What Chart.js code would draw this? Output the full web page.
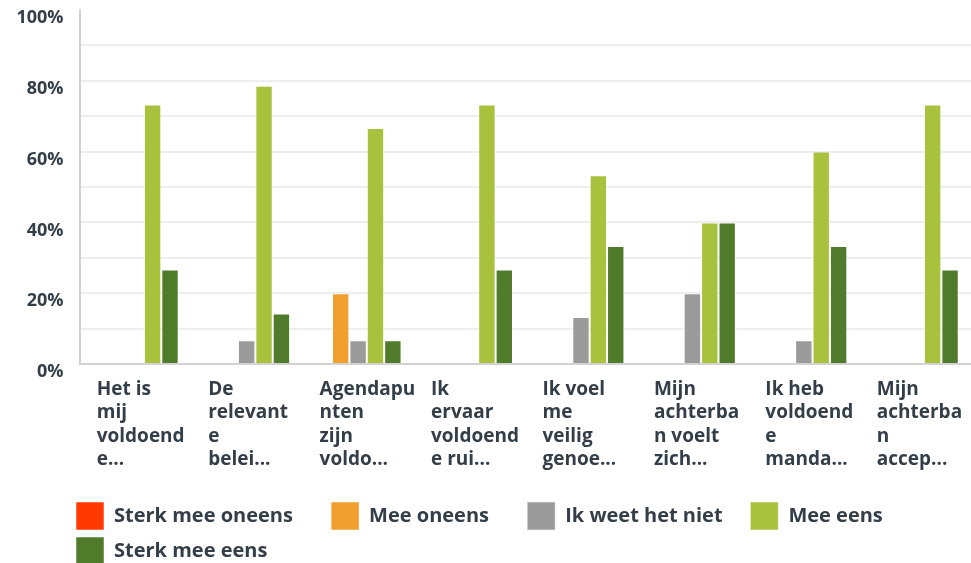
<!DOCTYPE html>
<html>
<head>
<meta charset="utf-8">
<script src="https://cdn.jsdelivr.net/npm/chart.js@4.4.1/dist/chart.umd.min.js"></script>
<style>
  html, body { margin: 0; padding: 0; background: #ffffff; }
  #wrap { width: 971px; height: 563px; position: relative; }
</style>
</head>
<body>
<div id="wrap"><canvas id="c" width="971" height="563"></canvas></div>
<script>
// ---- data ----
const categories = [
  ["Het is", "mij", "voldoend", "e..."],
  ["De", "relevant", "e", "belei..."],
  ["Agendapu", "nten", "zijn", "voldo..."],
  ["Ik", "ervaar", "voldoend", "e rui..."],
  ["Ik voel", "me", "veilig", "genoe..."],
  ["Mijn", "achterba", "n voelt", "zich..."],
  ["Ik heb", "voldoend", "e", "manda..."],
  ["Mijn", "achterba", "n", "accep..."]
];
const seriesNames = ["Sterk mee oneens", "Mee oneens", "Ik weet het niet", "Mee eens", "Sterk mee eens"];
const sterkMeeOneens = [0, 0, 0, 0, 0, 0, 0, 0];
const meeOneens      = [0, 0, 20, 0, 0, 0, 0, 0];
const ikWeetHetNiet  = [0, 6.7, 6.7, 0, 13.3, 20, 6.7, 0];
const meeEens        = [73.3, 78.6, 66.7, 73.3, 53.3, 40, 60, 73.3];
const sterkMeeEens   = [26.7, 14.3, 6.7, 26.7, 33.3, 40, 33.3, 26.7];
const yTickLabels    = [0, 20, 40, 60, 80, 100];

// ---- styling ----
const colors = ["#ff3a00", "#f1a030", "#9b9b9b", "#a8c23d", "#507b2a"];
const textColor = "#333e48";
const fontFamily = "'Open Sans', 'Noto Sans', sans-serif";
const seriesValues = [sterkMeeOneens, meeOneens, ikWeetHetNiet, meeEens, sterkMeeEens];
const legendTrail = [6, 6, 4, 6, 6];

const datasets = seriesNames.map((name, i) => ({
  label: name,
  data: seriesValues[i],
  backgroundColor: colors[i],
  borderColor: "rgba(255,255,255,0.55)",
  borderWidth: 1,
  borderSkipped: "start"
}));

const legendShift = {
  id: "legendShift",
  afterLayout(chart) {
    if (chart.legend) { chart.legend.left += 61; chart.legend.right += 61; }
  }
};

new Chart(document.getElementById("c"), {
  type: "bar",
  data: { labels: categories, datasets },
  plugins: [legendShift],
  options: {
    responsive: false,
    animation: false,
    devicePixelRatio: 1,
    layout: { padding: { left: 8, right: -3, top: 10, bottom: -12 } },
    datasets: { bar: { categoryPercentage: 0.78, barPercentage: 1.0 } },
    plugins: {
      tooltip: { enabled: false },
      legend: {
        position: "bottom",
        align: "start",
        labels: {
          boxWidth: 28,
          boxHeight: 28,
          padding: 7,
          color: textColor,
          useBorderRadius: true,
          borderRadius: 3,
          font: { family: fontFamily, size: 20, weight: "bold" },
          generateLabels: (chart) => chart.data.datasets.map((ds, i) => ({
            text: ds.label + "\u00a0".repeat(legendTrail[i]),
            fillStyle: ds.backgroundColor,
            strokeStyle: "rgba(255,255,255,0.5)",
            lineWidth: 1,
            fontColor: textColor,
            hidden: false,
            datasetIndex: i
          }))
        }
      }
    },
    scales: {
      x: {
        grid: { display: false, drawTicks: false },
        border: { display: true, color: "#d2d2d2", width: 2 },
        afterFit: (scale) => { scale.height = 131; scale.paddingLeft = 0; scale.paddingRight = 0; },
        ticks: {
          autoSkip: false,
          maxRotation: 0,
          minRotation: 0,
          align: "start",
          labelOffset: -38.5,
          padding: 14,
          color: textColor,
          font: { family: fontFamily, size: 19, weight: "bold", lineHeight: 1.23 }
        }
      },
      y: {
        min: 0,
        max: 100,
        afterFit: (scale) => { scale.width = 71.5; scale.paddingTop = 0; scale.paddingBottom = 0; },
        afterBuildTicks: (scale) => {
          scale.ticks = [];
          for (let v = 0; v <= 100; v += 10) scale.ticks.push({ value: v });
        },
        grid: {
          drawTicks: false,
          lineWidth: 2,
          color: (ctx) => (ctx.tick && (ctx.tick.value === 100 || ctx.tick.value === 0)) ? "rgba(0,0,0,0)" : "#eeeeee"
        },
        border: { display: true, color: "#d2d2d2", width: 2 },
        ticks: {
          padding: 16,
          labelOffset: 8,
          color: textColor,
          font: { family: fontFamily, size: 18, weight: "bold" },
          callback: (v) => yTickLabels.includes(v) ? v + "%" : ""
        }
      }
    }
  }
});
</script>
</body>
</html>
